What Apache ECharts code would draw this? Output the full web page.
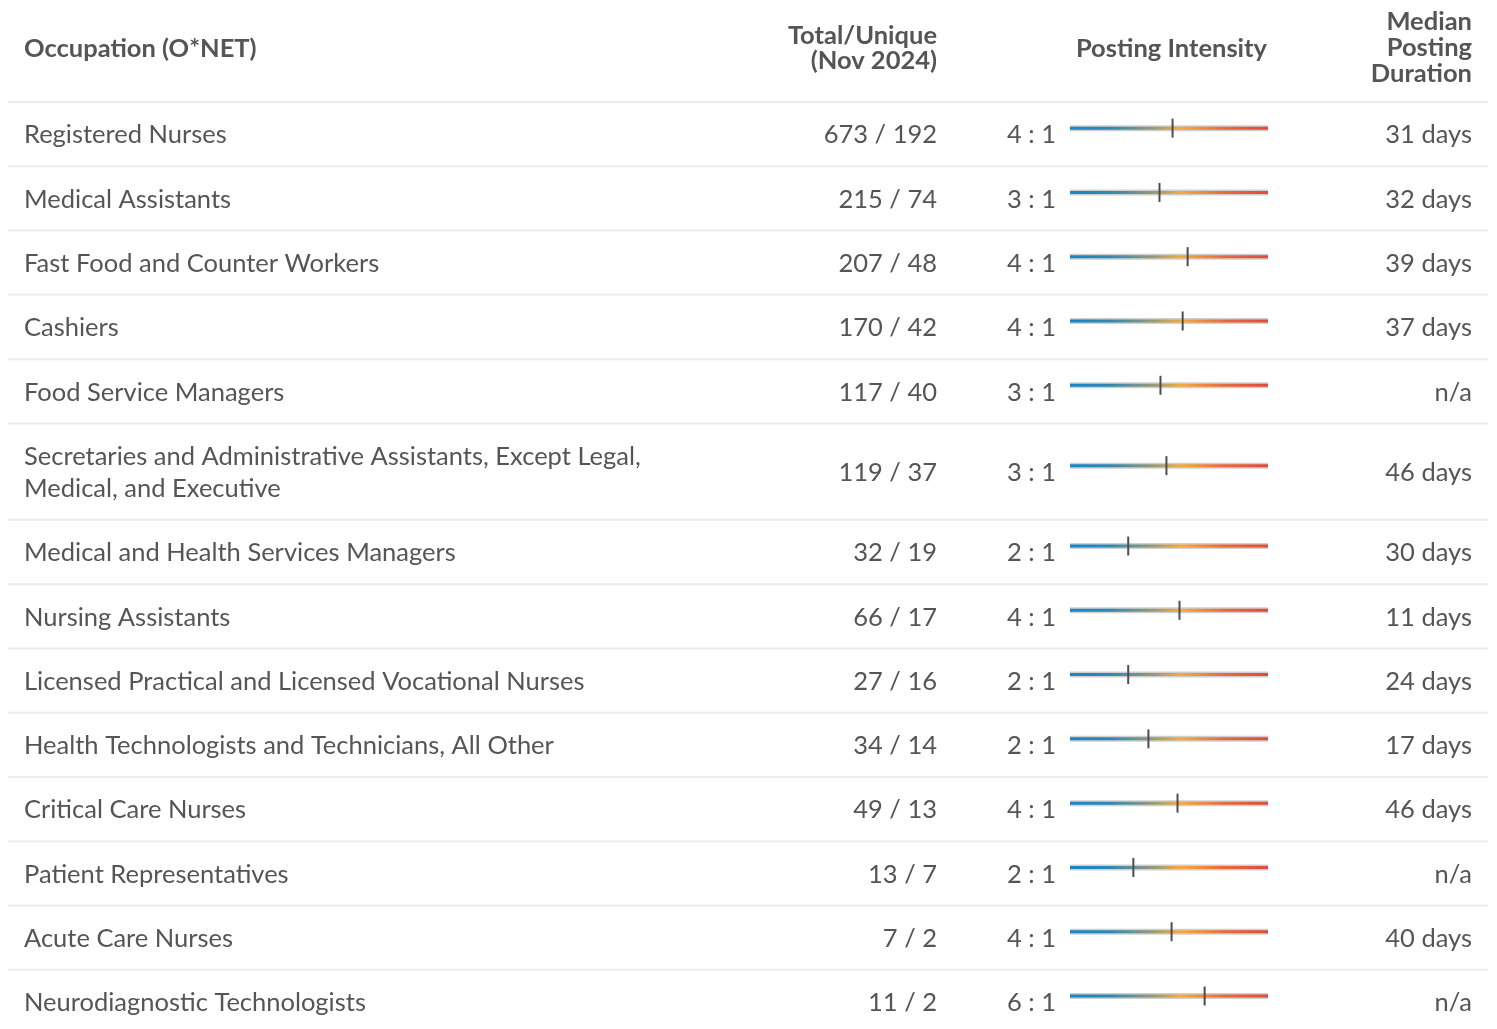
<!DOCTYPE html>
<html>
<head>
<meta charset="utf-8">
<title>Occupations</title>
<script src="https://cdn.jsdelivr.net/npm/echarts@6/dist/echarts.min.js"></script>
<style>
  html, body { margin: 0; padding: 0; background: #fff; }
  #main { width: 1497px; height: 1029px; }
</style>
</head>
<body>
<div id="main"></div>
<script>
const occupations = [
  'Registered Nurses',
  'Medical Assistants',
  'Fast Food and Counter Workers',
  'Cashiers',
  'Food Service Managers',
  'Secretaries and Administrative Assistants, Except Legal, Medical, and Executive',
  'Medical and Health Services Managers',
  'Nursing Assistants',
  'Licensed Practical and Licensed Vocational Nurses',
  'Health Technologists and Technicians, All Other',
  'Critical Care Nurses',
  'Patient Representatives',
  'Acute Care Nurses',
  'Neurodiagnostic Technologists'
];
const totalPostings = [673, 215, 207, 170, 117, 119, 32, 66, 27, 34, 49, 13, 7, 11];
const uniquePostings = [192, 74, 48, 42, 40, 37, 19, 17, 16, 14, 13, 7, 2, 2];
const intensityRatio = [4, 3, 4, 4, 3, 3, 2, 4, 2, 2, 4, 2, 4, 6];
// marker position along the intensity bar (0 = low, 1 = high)
const intensityMarker = [0.518, 0.452, 0.594, 0.569, 0.457, 0.487, 0.294, 0.553, 0.294, 0.396, 0.543, 0.320, 0.513, 0.680];
const medianDuration = [31, 32, 39, 37, null, 46, 30, 11, 24, 17, 46, null, 40, null];

const FONT = 'Lato, "Open Sans", sans-serif';
const SIZE = '25.5px ';
const TEXT = '#555';

// long names wrap onto two lines, so their row is taller
const spans = occupations.map(n => n.length > 60 ? 1.5 : 1);
let acc = 0;
const rows = occupations.map((n, i) => {
  const r = [acc, spans[i], intensityMarker[i]];
  acc += spans[i];
  return r;
});

const myChart = echarts.init(document.getElementById('main'));

function renderRow(params, api) {
  const i = params.dataIndex;
  const start = api.value(0);
  const span = api.value(1);
  const pos = api.value(2);
  const top = api.coord([0, start])[1];
  const bot = api.coord([0, start + span])[1];
  const cy = (top + bot) / 2;
  const ly = cy - 6;
  const x0 = api.coord([0, start])[0];
  const x1 = api.coord([1, start])[0];
  const mx = api.coord([pos, start])[0];
  const d = medianDuration[i];
  return {
    type: 'group',
    children: [
      { type: 'line', shape: { x1: 8, y1: top, x2: 1488, y2: top },
        style: { stroke: '#ececec', lineWidth: 2 } },
      { type: 'text', x: 24, y: cy + 1,
        style: { text: occupations[i], fill: TEXT, font: SIZE + FONT,
          verticalAlign: 'middle', width: 670, overflow: 'break', lineHeight: 32 } },
      { type: 'text', x: 937, y: cy + 1,
        style: { text: totalPostings[i] + ' / ' + uniquePostings[i], fill: TEXT, font: SIZE + FONT,
          align: 'right', verticalAlign: 'middle' } },
      { type: 'text', x: 1056, y: cy + 1,
        style: { text: intensityRatio[i] + ' : 1', fill: TEXT, font: SIZE + FONT,
          align: 'right', verticalAlign: 'middle' } },
      { type: 'rect', shape: { x: x0, y: ly - 3, width: x1 - x0, height: 6 },
        style: { fill: '#cfcfcf' } },
      { type: 'rect', shape: { x: x0, y: ly - 1.5, width: x1 - x0, height: 3 },
        style: { fill: new echarts.graphic.LinearGradient(0, 0, 1, 0, [
          { offset: 0, color: '#1586cc' },
          { offset: 0.2, color: '#2f88b3' },
          { offset: 0.42, color: '#959a78' },
          { offset: 0.56, color: '#f6ab3a' },
          { offset: 0.78, color: '#e9693b' },
          { offset: 1, color: '#e04b39' }
        ]) } },
      { type: 'line', shape: { x1: mx, y1: ly - 9.5, x2: mx, y2: ly + 9.5 },
        style: { stroke: '#4d4d4d', lineWidth: 2 } },
      { type: 'text', x: 1472, y: cy + 1,
        style: { text: d == null ? 'n/a' : d + ' days', fill: TEXT, font: SIZE + FONT,
          align: 'right', verticalAlign: 'middle' } }
    ]
  };
}

const headFont = 'bold ' + SIZE + FONT;
const options = {
  animation: false,
  grid: { left: 1070, width: 198, top: 102, bottom: 0 },
  xAxis: { type: 'value', min: 0, max: 1, show: false },
  // the table is cut off at the bottom, only ~14.4 row heights are visible
  yAxis: { type: 'value', min: 0, max: 14.42, inverse: true, show: false },
  graphic: [
    { type: 'text', x: 24, y: 49,
      style: { text: 'Occupation (O*NET)', font: headFont, fill: TEXT, verticalAlign: 'middle' } },
    { type: 'text', x: 937, y: 23.5,
      style: { text: 'Total/Unique\n(Nov 2024)', font: headFont, fill: TEXT,
        align: 'right', verticalAlign: 'top', lineHeight: 25 } },
    { type: 'text', x: 1267, y: 49,
      style: { text: 'Posting Intensity', font: headFont, fill: TEXT, align: 'right', verticalAlign: 'middle' } },
    { type: 'text', x: 1472, y: 9,
      style: { text: 'Median\nPosting\nDuration', font: headFont, fill: TEXT,
        align: 'right', verticalAlign: 'top', lineHeight: 26 } }
  ],
  series: [{
    type: 'custom',
    renderItem: renderRow,
    data: rows,
    clip: false,
    silent: true
  }]
};
myChart.setOption(options);
window.onresize = function () {
  myChart.resize();
};
</script>
</body>
</html>
